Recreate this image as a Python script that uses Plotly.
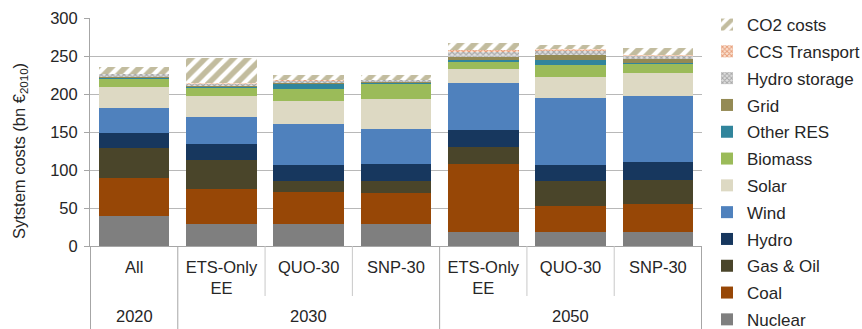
import plotly.graph_objects as go

# Scenario axis: outer level = year, inner level = scenario
years = ["2020", "2030", "2030", "2030", "2050", "2050", "2050"]
scenarios = ["All", "ETS-Only<br>EE", "QUO-30", "SNP-30", "ETS-Only<br>EE", "QUO-30", "SNP-30"]
y_ticks = [0, 50, 100, 150, 200, 250, 300]

# Cost components (bn €2010), bottom of stack first
nuclear = [40, 29, 29, 29, 19, 19, 19]
coal = [49, 46, 42, 41, 89, 34, 36]
gas_oil = [40, 38, 14, 16, 22, 32, 32]
hydro = [20, 21, 22, 22, 22, 22, 23]
wind = [32, 36, 53, 46, 62, 88, 87]
solar = [28, 27, 31, 39, 19, 28, 30]
biomass = [12, 12, 16, 21, 10, 15, 13]
other_res = [0.5, 0.5, 7, 1, 2, 7, 0.5]
grid = [0.5, 0.5, 1, 0.5, 4, 6, 5]
hydro_storage = [4, 4, 3, 3, 6, 6, 5]
ccs_transport = [0, 1, 0.5, 0.5, 3, 2, 1]
co2_costs = [9, 33, 6.5, 6, 9, 6, 8.5]

series = [
    ("Nuclear", nuclear, "#7f7f7f", None),
    ("Coal", coal, "#974706", None),
    ("Gas & Oil", gas_oil, "#4a452a", None),
    ("Hydro", hydro, "#17375e", None),
    ("Wind", wind, "#4f81bd", None),
    ("Solar", solar, "#ddd9c3", None),
    ("Biomass", biomass, "#9bbb59", None),
    ("Other RES", other_res, "#31859c", None),
    ("Grid", grid, "#948a54", None),
    ("Hydro storage", hydro_storage, "#d0d0d0",
     dict(shape="x", fgcolor="#6f6f6f", bgcolor="#e0e0e0", size=4, solidity=0.5)),
    ("CCS Transport", ccs_transport, "#f2c8a8",
     dict(shape="x", fgcolor="#d0561f", bgcolor="#fbe3d2", size=4, solidity=0.5)),
    ("CO2 costs", co2_costs, "#ffffff",
     dict(shape="/", fgcolor="#857a3e", bgcolor="#ffffff", size=10, solidity=0.55)),
]

# unique category keys; the visible tick text is the scenario name
keys = [f"{y} {s}" for y, s in zip(years, scenarios)]

FONT = "Liberation Sans, Arial, sans-serif"
TXT = "#262626"
AXIS = "#a6a6a6"

fig = go.Figure()
n = len(series)
for i, (name, vals, color, pattern) in enumerate(series):
    marker = dict(color=color, line=dict(width=0))
    if pattern is not None:
        marker["pattern"] = pattern
    fig.add_trace(go.Bar(
        x=keys, y=vals, name=name, marker=marker,
        legendgroup=name, legendrank=n - i,
    ))

# plot-area height in px, used to place the two-level category labels
PLOT_H = 329 - 18 - 83
def below(px):
    return -px / PLOT_H

shapes = []
# group dividers (full depth) and scenario separators (first label row only)
group_edges = [-0.5] + [i - 0.5 for i in range(1, len(years)) if years[i] != years[i - 1]] + [len(years) - 0.5]
for i in range(1, len(years)):
    if years[i] != years[i - 1]:
        continue
    shapes.append(dict(type="line", xref="x", yref="paper", x0=i - 0.5, x1=i - 0.5,
                       y0=0, y1=below(50), line=dict(color="#c8c8c8", width=1)))
for e in group_edges:
    shapes.append(dict(type="line", xref="x", yref="paper", x0=e, x1=e,
                       y0=0, y1=below(84), line=dict(color=AXIS, width=1)))

annotations = []
for yr in dict.fromkeys(years):
    idx = [i for i, v in enumerate(years) if v == yr]
    annotations.append(dict(
        x=sum(idx) / len(idx), xref="x", y=below(70), yref="paper",
        text=yr, showarrow=False, yanchor="middle",
        font=dict(family=FONT, size=16.5, color=TXT),
    ))

# y-axis title
annotations.append(dict(
    text="Sytstem costs (bn €<sub>2010</sub>)", textangle=-90,
    xref="paper", x=-70 / 612, xanchor="center",
    yref="paper", y=(247 - 152) / PLOT_H, yanchor="middle",
    showarrow=False, font=dict(family=FONT, size=16.5, color=TXT),
))

fig.update_layout(
    barmode="stack",
    bargap=0.19,
    width=862, height=329,
    margin=dict(l=90, r=160, t=18, b=83, autoexpand=False),
    paper_bgcolor="white", plot_bgcolor="white",
    font=dict(family=FONT, size=16.5, color=TXT),
    legend=dict(
        xref="container", yref="container",
        x=707 / 862, xanchor="left", y=1 - 7 / 329, yanchor="top",
        traceorder="grouped", tracegroupgap=1.7,
        font=dict(family=FONT, size=17, color=TXT),
        maxheight=400,
    ),
    shapes=shapes,
    annotations=annotations,
    showlegend=True,
)
fig.update_yaxes(
    range=[0, 300], tickvals=y_ticks,
    showgrid=True, gridcolor="#b8b8b8", gridwidth=1,
    showline=True, linecolor=AXIS, linewidth=1,
    ticks="outside", ticklen=5, tickcolor=AXIS,
    ticklabelstandoff=3,
    tickfont=dict(size=16.5),
    zeroline=False,
)
fig.update_xaxes(
    type="category",
    tickvals=keys, ticktext=scenarios,
    showline=True, linecolor=AXIS, linewidth=1,
    ticks="outside", ticklen=6, tickcolor="rgba(0,0,0,0)",
    tickfont=dict(size=16.5),
    showgrid=False,
)

fig.write_html("out.html")
